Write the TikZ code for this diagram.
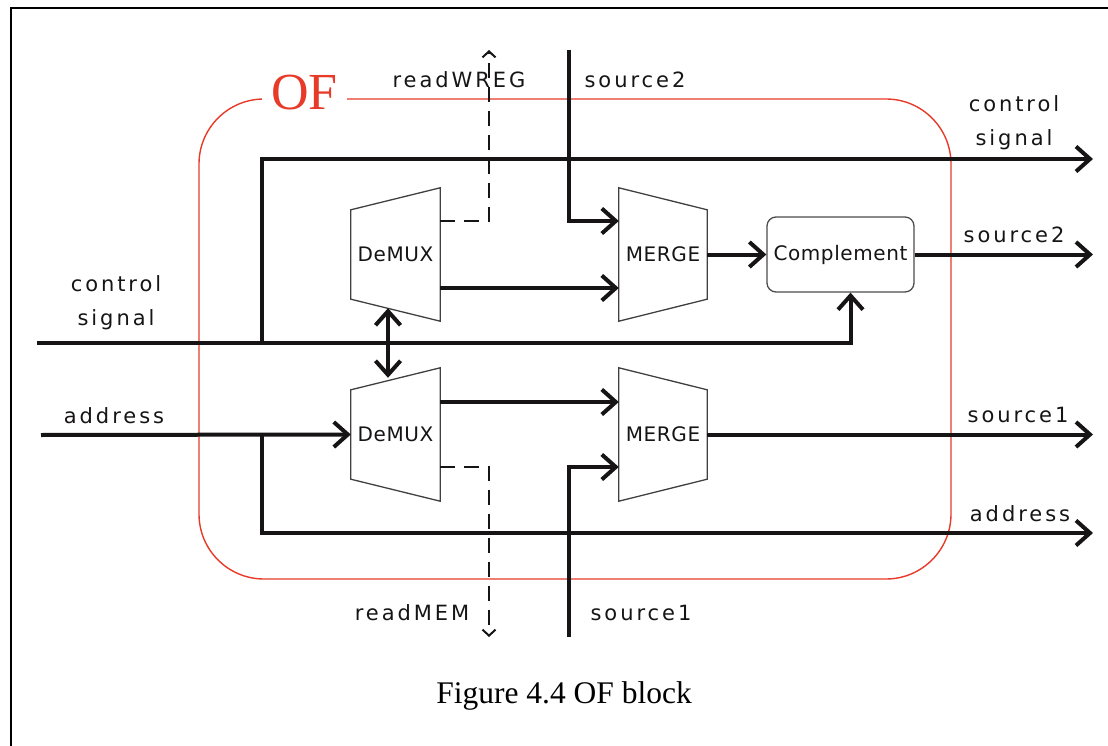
\documentclass[tikz,border=0pt]{standalone}
\usepackage{fontspec}
\setmainfont{Liberation Serif}
\newfontfamily\labfont{DejaVu Sans}[LetterSpace=14]
\newfontfamily\boxfont{DejaVu Sans}[LetterSpace=3]
\usetikzlibrary{arrows.meta,calc}
\definecolor{ofred}{RGB}{232,58,40}
\definecolor{ink}{RGB}{22,20,20}

\begin{document}
\begin{tikzpicture}[x=1pt,y=-1pt,
  bus/.style={line width=4pt, draw=ink, -{Straight Barb[length=14pt,width=25pt]}},
  dblbus/.style={line width=4pt, draw=ink, {Straight Barb[length=14pt,width=25pt]}-{Straight Barb[length=14pt,width=25pt]}},
  plainbus/.style={line width=4pt, draw=ink},
  dashbus/.style={line width=2pt, draw=ink, dash pattern=on 15pt off 9pt, -{Straight Barb[length=6pt,width=13pt]}},
  block/.style={minimum width=89pt, minimum height=133pt, inner sep=0pt,
    font=\boxfont\fontsize{20}{24}\selectfont, text=ink},
  lab/.style={anchor=base, inner sep=0pt, font=\labfont\fontsize{21}{25}\selectfont, text=ink},
  outline/.style={draw=black!75, line width=1.3pt, line join=miter}
]
\useasboundingbox (0,0) rectangle (1108,746);

% page frame
\draw[line width=2pt] (11,760) -- (11,8) -- (1120,8);

% OF region
\draw[ofred, line width=1.4pt, rounded corners=65pt] (199,99) rectangle (951,579);
\node[fill=white, inner xsep=9pt, inner ysep=2pt, anchor=base, text=ofred,
      font=\fontsize{52}{52}\selectfont] (oftitle) at (304.5,110) {OF};

% blocks
\node[block] (dm1) at (395.5,254.5) {DeMUX};
\node[block] (dm2) at (395.5,434.5) {DeMUX};
\node[block, minimum width=88pt] (mg1) at (663,254.5) {MERGE};
\node[block, minimum width=88pt] (mg2) at (663,434.5) {MERGE};
\node[draw=black!70, line width=1.3pt, rounded corners=9pt, minimum width=147pt,
      minimum height=75pt, inner sep=0pt, text=ink,
      font=\boxfont\fontsize{20}{24}\selectfont] (comp) at (840.5,254.5) {Complement};

\foreach \d in {dm1,dm2}
  \draw[outline] ($(\d.north west)+(0,22)$) -- (\d.north east) -- (\d.south east)
     -- ($(\d.south west)+(0,-22)$) -- cycle;
\foreach \m in {mg1,mg2}
  \draw[outline] (\m.north west) -- ($(\m.north east)+(0,22)$)
     -- ($(\m.south east)+(0,-22)$) -- (\m.south west) -- cycle;

% free ends and junctions
\coordinate (ctrlIn)  at (37,343);
\coordinate (ctrlJ)   at (262,343);
\coordinate (ctrlOut) at (1093,159);
\coordinate (addrIn)  at (41,435);
\coordinate (addrJ)   at (262,435);
\coordinate (addrOut) at (1093,533);
\coordinate (srcTwoIn)  at (569,50);
\coordinate (srcTwoOut) at (1093,254.5);
\coordinate (srcOneIn)  at (569,637);
\coordinate (srcOneOut) at (1093,434.5);
\coordinate (wregOut) at (489,50);
\coordinate (memOut)  at (489,637);

% control signal
\draw[bus] (ctrlIn) -| ($(comp.south)+(10,0)$);
\draw[bus] (ctrlJ) |- (ctrlOut);
\draw[dblbus] ($(dm1.south)+(-7.5,-13)$) -- ($(dm2.north)+(-7.5,10)$);

% upper path
\draw[bus] (srcTwoIn) |- ([yshift=33.5pt]mg1.west);
\draw[bus] ([yshift=-33.5pt]dm1.east) -- ([yshift=-33.5pt]mg1.west);
\draw[bus] (mg1.east) -- (comp.west);
\draw[bus] (comp.east) -- (srcTwoOut);
\draw[dashbus] ([yshift=33.5pt]dm1.east) -| (wregOut);

% lower path
\draw[bus] (addrIn) -- (dm2.west);
\draw[bus] (addrJ) |- (addrOut);
\draw[bus] ([yshift=32.5pt]dm2.east) -- ([yshift=32.5pt]mg2.west);
\draw[bus] (srcOneIn) |- ([yshift=-32.5pt]mg2.west);
\draw[bus] (mg2.east) -- (srcOneOut);
\draw[dashbus] ([yshift=-32.5pt]dm2.east) -| (memOut);

% labels
\node[lab] (lCtlA) at (116,291) {control};
\node[lab] (lCtlB) at (116,325) {signal};
\node[lab] (rCtlA) at (1014,112) {control};
\node[lab] (rCtlB) at (1014,146) {signal};
\node[lab] (lWreg) at (459,88) {readWREG};
\node[lab] (lSrcTwoTop) at (635,88) {source2};
\node[lab] (lSrcTwoR) at (1014,243) {source2};
\node[lab] (lAddrL) at (114,423) {address};
\node[lab] (lSrcOneR) at (1018,422) {source1};
\node[lab] (lAddrR) at (1020,521) {address};
\node[lab] (lMem) at (412,620) {readMEM};
\node[lab] (lSrcOneB) at (641,620) {source1};

% caption
\node[anchor=base, font=\fontsize{31.5}{31.5}\selectfont] (caption) at (564,703) {Figure 4.4 OF block};
\end{tikzpicture}
\end{document}
